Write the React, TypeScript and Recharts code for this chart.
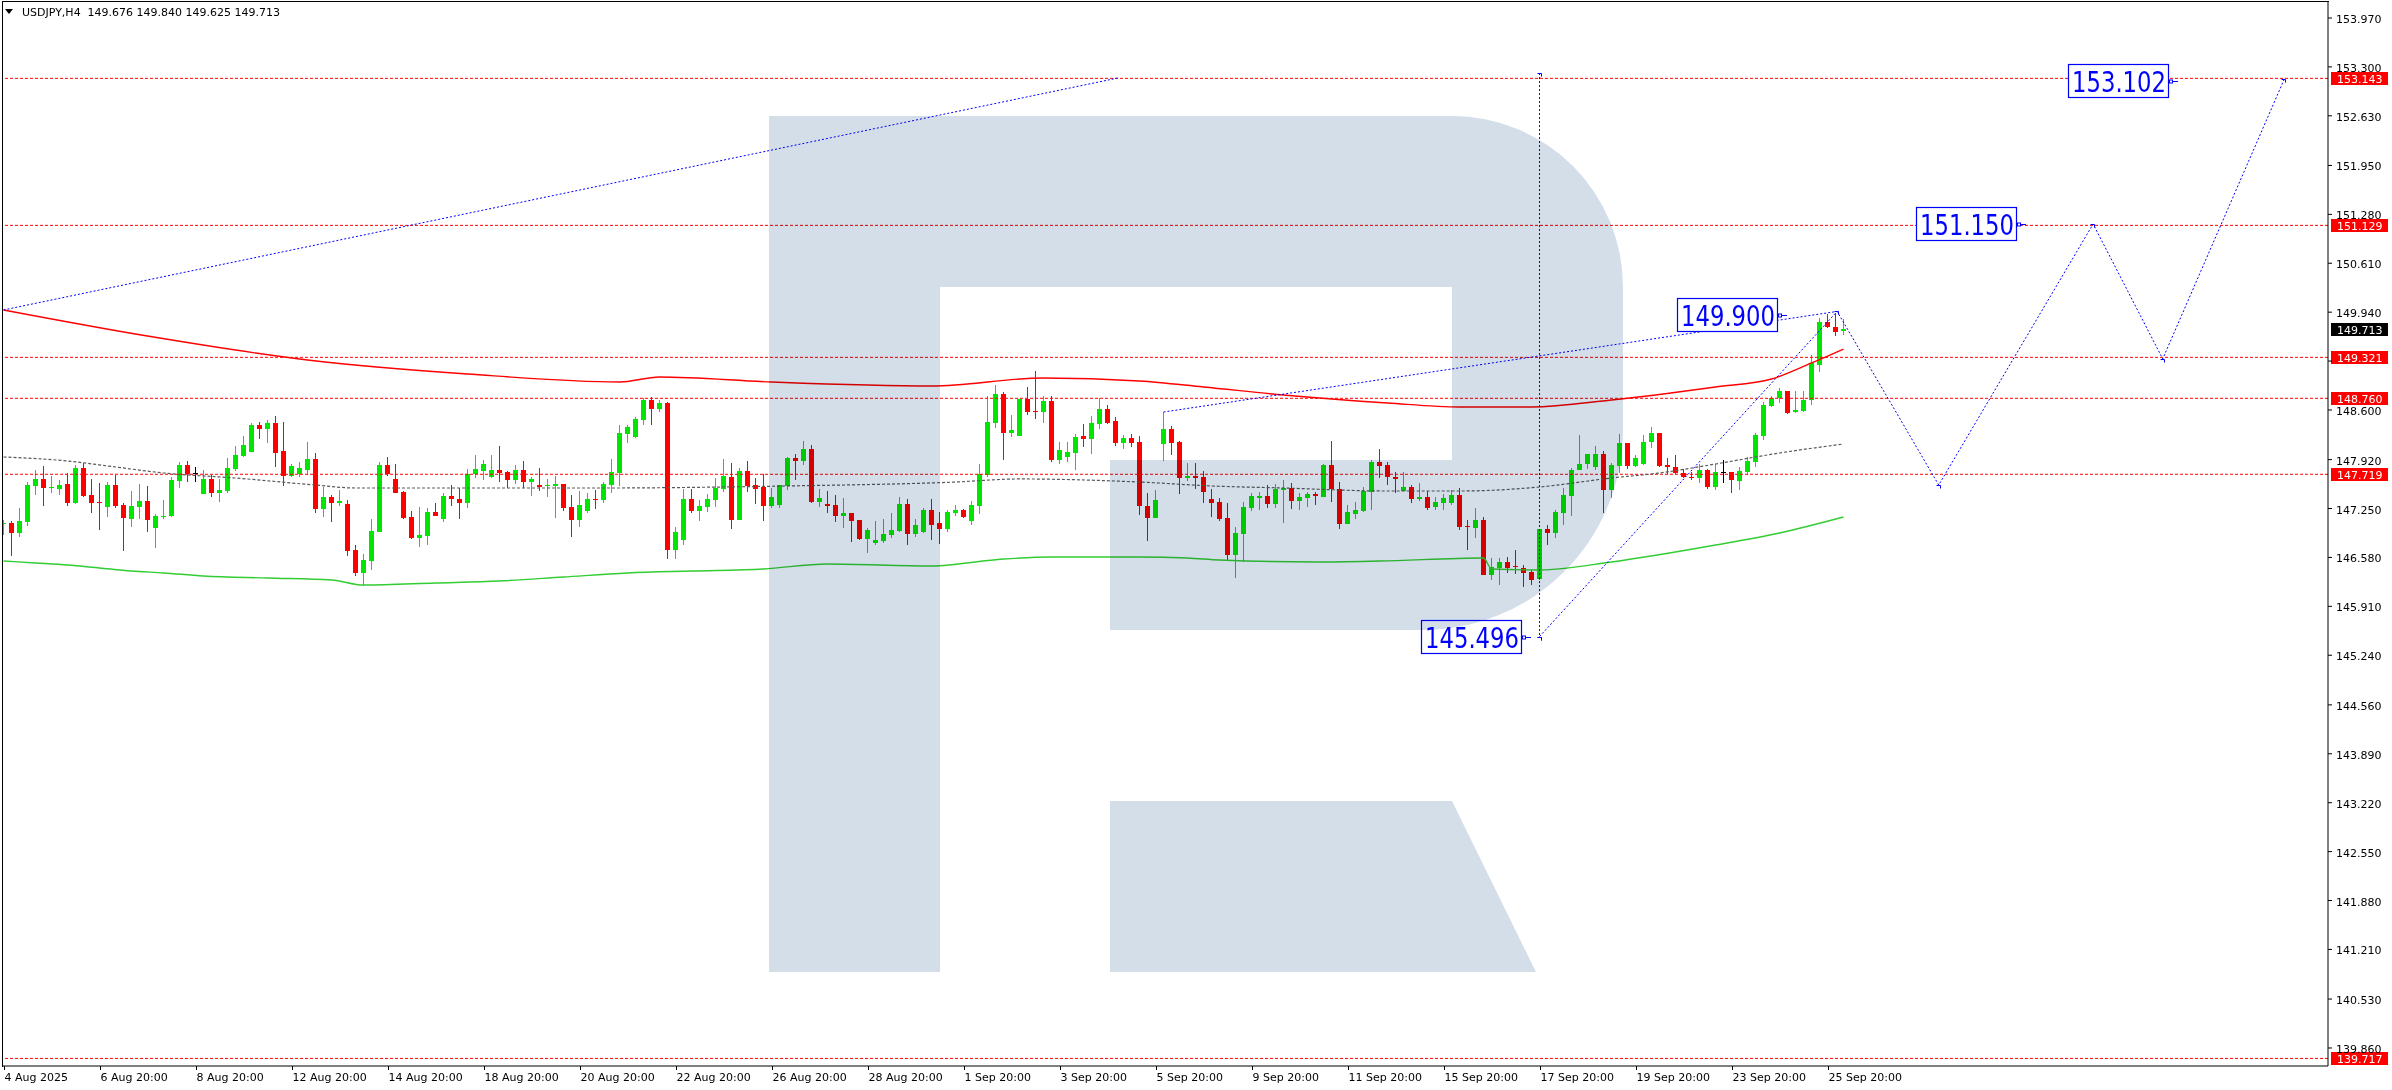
import React from "react";
import { ComposedChart, Bar, Line, XAxis, YAxis, ReferenceLine, ReferenceDot } from "recharts";

// USDJPY H4, bar 0 = 4 Aug 2025 20:00, one bar every 4 hours (weekends skipped)
const opens = [
  147.034, 147.048, 146.920, 147.071, 147.563, 147.655, 147.536, 147.522, 147.586, 147.331,
  147.810, 147.436, 147.340, 147.276, 147.573, 147.299, 147.112, 147.276, 147.354, 146.988,
  147.144, 147.153, 147.632, 147.847, 147.732, 147.454, 147.655, 147.468, 147.495, 147.792,
  147.975, 148.030, 148.394, 148.340, 148.426, 148.039, 147.700, 147.719, 147.778, 147.929,
  147.249, 147.413, 147.331, 147.313, 146.682, 146.371, 146.536, 146.934, 147.847, 147.655,
  147.477, 147.139, 146.851, 146.879, 147.203, 147.112, 147.422, 147.381, 147.331, 147.719,
  147.764, 147.687, 147.778, 147.751, 147.641, 147.778, 147.618, 147.573, 147.563, 147.563,
  147.586, 147.272, 147.094, 147.217, 147.381, 147.368, 147.573, 147.741, 148.276, 148.230,
  148.463, 148.737, 148.618, 148.696, 146.682, 146.819, 147.381, 147.217, 147.276, 147.368,
  147.522, 147.682, 147.094, 147.764, 147.573, 147.545, 147.290, 147.299, 147.563, 147.943,
  147.901, 148.066, 147.340, 147.313, 147.299, 147.153, 147.190, 147.094, 146.833, 146.778,
  146.806, 146.888, 146.943, 147.313, 146.902, 146.929, 147.231, 147.053, 146.970, 147.190,
  147.231, 147.080, 147.285, 147.710, 148.422, 148.819, 148.285, 148.244, 148.750, 148.586,
  148.572, 148.723, 147.915, 147.956, 148.011, 148.244, 148.203, 148.408, 148.613, 148.449,
  148.148, 148.217, 148.162, 147.285, 147.121, 148.135, 148.340, 148.162, 147.668, 147.696,
  147.682, 147.381, 147.340, 147.121, 146.614, 146.902, 147.258, 147.395, 147.422, 147.313,
  147.504, 147.531, 147.354, 147.395, 147.450, 147.409, 147.847, 147.518, 147.039, 147.176,
  147.217, 147.477, 147.888, 147.847, 147.678, 147.486, 147.545, 147.381, 147.409, 147.272,
  147.331, 147.331, 147.436, 147.012, 146.988, 147.094, 146.340, 146.431, 146.522, 146.458,
  146.431, 146.385, 146.280, 146.965, 146.911, 147.194, 147.427, 147.778, 147.860, 147.824,
  147.998, 147.504, 147.837, 148.144, 147.837, 147.856, 148.162, 148.281, 147.847, 147.824,
  147.741, 147.678, 147.664, 147.778, 147.550, 147.755, 147.755, 147.632, 147.755, 147.892,
  148.249, 148.659, 148.760, 148.860, 148.568, 148.591, 148.737, 149.217, 149.801, 149.742,
  149.676,
];
const highs = [
  147.094, 147.080, 147.258, 147.618, 147.778, 147.833, 147.700, 147.641, 147.732, 147.847,
  147.869, 147.655, 147.600, 147.618, 147.710, 147.322, 147.490, 147.582, 147.559, 147.176,
  147.368, 147.687, 147.892, 147.901, 147.815, 147.778, 147.710, 147.655, 147.947, 148.107,
  148.244, 148.426, 148.440, 148.463, 148.518, 148.440, 147.860, 147.892, 148.167, 148.011,
  147.550, 147.436, 147.504, 147.368, 146.751, 146.628, 147.103, 147.892, 147.956, 147.865,
  147.490, 147.222, 147.276, 147.263, 147.322, 147.459, 147.573, 147.527, 147.792, 147.984,
  147.915, 147.984, 148.107, 147.764, 147.847, 147.901, 147.687, 147.810, 147.655, 147.700,
  147.586, 147.436, 147.490, 147.459, 147.504, 147.618, 147.929, 148.394, 148.394, 148.504,
  148.769, 148.778, 148.737, 148.709, 146.997, 147.518, 147.518, 147.368, 147.450, 147.668,
  147.929, 147.874, 147.801, 147.901, 147.668, 147.723, 147.531, 147.573, 147.961, 147.998,
  148.176, 148.121, 147.518, 147.490, 147.436, 147.395, 147.190, 147.094, 146.984, 147.080,
  147.107, 147.190, 147.409, 147.381, 147.107, 147.258, 147.381, 147.203, 147.231, 147.299,
  147.244, 147.354, 147.860, 148.791, 148.943, 148.847, 148.531, 148.750, 148.915, 149.134,
  148.791, 148.791, 148.162, 148.162, 148.272, 148.408, 148.518, 148.764, 148.668, 148.504,
  148.258, 148.272, 148.244, 147.463, 147.504, 148.572, 148.381, 148.176, 147.874, 147.874,
  147.764, 147.518, 147.395, 147.327, 146.997, 147.340, 147.463, 147.477, 147.573, 147.586,
  147.641, 147.600, 147.463, 147.477, 147.477, 147.860, 148.176, 147.614, 147.299, 147.340,
  147.545, 147.915, 148.066, 147.883, 147.746, 147.755, 147.573, 147.600, 147.486, 147.409,
  147.450, 147.504, 147.531, 147.094, 147.254, 147.130, 146.568, 146.568, 146.591, 146.682,
  146.472, 146.408, 146.965, 147.025, 147.231, 147.527, 147.801, 148.258, 147.998, 148.107,
  148.043, 147.869, 148.272, 148.144, 147.984, 148.258, 148.372, 148.290, 147.938, 147.984,
  147.787, 147.755, 147.860, 147.792, 147.860, 147.915, 147.755, 147.815, 147.961, 148.290,
  148.714, 148.791, 148.906, 148.860, 148.860, 148.860, 149.353, 149.856, 149.915, 149.924,
  149.840,
];
const lows = [
  146.888, 146.600, 146.865, 147.016, 147.436, 147.290, 147.468, 147.436, 147.290, 147.313,
  147.404, 147.190, 146.961, 147.139, 147.254, 146.673, 147.002, 147.103, 146.934, 146.714,
  147.103, 147.130, 147.536, 147.618, 147.618, 147.454, 147.413, 147.345, 147.468, 147.769,
  147.961, 148.030, 148.198, 148.144, 147.824, 147.563, 147.678, 147.687, 147.710, 147.194,
  147.139, 147.071, 147.290, 146.605, 146.330, 146.193, 146.408, 146.934, 147.700, 147.459,
  147.103, 146.833, 146.728, 146.751, 147.153, 147.071, 147.290, 147.112, 147.263, 147.673,
  147.641, 147.673, 147.618, 147.536, 147.586, 147.536, 147.427, 147.490, 147.413, 147.126,
  147.222, 146.865, 147.002, 147.194, 147.244, 147.331, 147.468, 147.559, 148.153, 148.221,
  148.394, 148.394, 148.572, 146.559, 146.559, 146.751, 147.194, 147.080, 147.203, 147.276,
  147.481, 146.970, 147.094, 147.481, 147.313, 147.080, 147.263, 147.263, 147.504, 147.641,
  147.847, 147.327, 147.272, 147.190, 147.066, 146.984, 146.792, 146.819, 146.641, 146.751,
  146.778, 146.847, 146.929, 146.751, 146.860, 146.915, 146.819, 146.765, 146.929, 147.144,
  147.121, 147.025, 147.176, 147.682, 148.354, 147.915, 148.230, 148.244, 148.531, 148.476,
  148.417, 147.888, 147.860, 147.888, 147.778, 148.093, 147.998, 148.340, 148.408, 148.107,
  148.066, 148.093, 147.162, 146.806, 147.121, 147.901, 147.984, 147.450, 147.627, 147.518,
  147.327, 147.135, 147.080, 146.545, 146.298, 146.518, 147.217, 147.231, 147.258, 147.258,
  147.053, 147.244, 147.231, 147.272, 147.299, 147.409, 147.340, 146.970, 147.039, 147.107,
  147.203, 147.231, 147.668, 147.573, 147.459, 147.486, 147.331, 147.354, 147.231, 147.231,
  147.231, 147.299, 146.956, 146.678, 146.851, 146.340, 146.271, 146.207, 146.362, 146.353,
  146.180, 146.203, 146.271, 146.751, 146.842, 147.025, 147.149, 147.778, 147.787, 147.778,
  147.185, 147.391, 147.741, 147.787, 147.824, 147.847, 148.075, 147.824, 147.723, 147.719,
  147.664, 147.641, 147.595, 147.518, 147.504, 147.605, 147.459, 147.504, 147.710, 147.815,
  148.189, 148.645, 148.691, 148.549, 148.554, 148.577, 148.668, 149.125, 149.719, 149.618,
  149.625,
];
const closes = [
  147.048, 146.920, 147.080, 147.573, 147.655, 147.536, 147.545, 147.573, 147.331, 147.810,
  147.427, 147.331, 147.331, 147.573, 147.290, 147.126, 147.285, 147.354, 147.094, 147.149,
  147.153, 147.641, 147.847, 147.723, 147.732, 147.655, 147.468, 147.504, 147.810, 147.984,
  148.121, 148.394, 148.340, 148.426, 148.016, 147.700, 147.833, 147.810, 147.929, 147.249,
  147.409, 147.331, 147.354, 146.673, 146.371, 146.545, 146.943, 147.847, 147.723, 147.468,
  147.126, 146.851, 146.888, 147.203, 147.153, 147.422, 147.377, 147.331, 147.719, 147.792,
  147.860, 147.778, 147.741, 147.641, 147.778, 147.618, 147.655, 147.550, 147.568, 147.586,
  147.263, 147.094, 147.299, 147.381, 147.372, 147.586, 147.751, 148.285, 148.367, 148.476,
  148.737, 148.618, 148.696, 146.682, 146.929, 147.381, 147.217, 147.285, 147.381, 147.531,
  147.696, 147.094, 147.764, 147.559, 147.518, 147.290, 147.409, 147.573, 147.943, 147.901,
  148.066, 147.340, 147.395, 147.290, 147.153, 147.190, 147.080, 146.833, 146.956, 146.819,
  146.902, 146.956, 147.313, 146.902, 147.025, 147.231, 147.025, 146.970, 147.203, 147.231,
  147.139, 147.299, 147.723, 148.435, 148.819, 148.285, 148.326, 148.750, 148.572, 148.577,
  148.723, 147.915, 148.052, 148.025, 148.230, 148.203, 148.422, 148.613, 148.422, 148.148,
  148.217, 148.148, 147.285, 147.121, 147.368, 148.340, 148.148, 147.668, 147.696, 147.668,
  147.477, 147.327, 147.107, 146.614, 146.915, 147.272, 147.422, 147.422, 147.313, 147.518,
  147.531, 147.354, 147.409, 147.450, 147.422, 147.847, 147.518, 147.039, 147.203, 147.231,
  147.490, 147.888, 147.833, 147.678, 147.650, 147.545, 147.381, 147.409, 147.254, 147.340,
  147.400, 147.436, 146.997, 146.993, 147.094, 146.340, 146.454, 146.522, 146.440, 146.449,
  146.371, 146.271, 146.965, 146.911, 147.208, 147.436, 147.778, 147.860, 147.998, 147.998,
  147.504, 147.847, 148.144, 147.837, 147.938, 148.162, 148.281, 147.837, 147.824, 147.732,
  147.687, 147.673, 147.778, 147.550, 147.755, 147.755, 147.641, 147.764, 147.901, 148.258,
  148.668, 148.769, 148.860, 148.563, 148.600, 148.737, 149.248, 149.801, 149.742, 149.673,
  149.713,
];

const tickBars = [0, 12, 24, 36, 48, 60, 72, 84, 96, 108, 120, 132, 144, 156, 168, 180, 192, 204, 216, 228];
const tickTexts = [
  "4 Aug 2025", "6 Aug 20:00", "8 Aug 20:00", "12 Aug 20:00", "14 Aug 20:00", "18 Aug 20:00",
  "20 Aug 20:00", "22 Aug 20:00", "26 Aug 20:00", "28 Aug 20:00", "1 Sep 20:00", "3 Sep 20:00",
  "5 Sep 20:00", "9 Sep 20:00", "11 Sep 20:00", "15 Sep 20:00", "17 Sep 20:00", "19 Sep 20:00",
  "23 Sep 20:00", "25 Sep 20:00",
];
const priceTicks = [
  153.97, 153.3, 152.63, 151.95, 151.28, 150.61, 149.94, 149.27, 148.6, 147.92, 147.25,
  146.58, 145.91, 145.24, 144.56, 143.89, 143.22, 142.55, 141.88, 141.21, 140.53, 139.86,
];

// horizontal levels
const levelPrices = [153.143, 151.129, 149.321, 148.76, 147.719, 139.717];
const lastPrice = 149.713;

// moving averages, read at a few bars
const redMaBars = [0, 18, 38, 58, 77, 82, 96, 116, 130, 142, 150, 160, 173, 182, 191, 201, 214, 221, 226, 230];
const redMaVals = [
  149.970, 149.613, 149.285, 149.093, 148.983, 149.052, 148.983, 148.928, 149.038, 148.997,
  148.915, 148.805, 148.696, 148.641, 148.641, 148.737, 148.915, 149.024, 149.244, 149.435,
];
const grayMaBars = [0, 8, 14, 20, 29, 39, 44, 75, 90, 98, 119, 127, 142, 151, 160, 173, 182, 192, 201, 207, 214, 222, 230];
const grayMaVals = [
  147.956, 147.901, 147.819, 147.737, 147.668, 147.572, 147.531, 147.531, 147.545, 147.559,
  147.613, 147.655, 147.613, 147.559, 147.531, 147.490, 147.490, 147.545, 147.668, 147.737,
  147.860, 148.011, 148.134,
];
const greenMaBars = [0, 4, 8, 12, 16, 20, 25, 33, 41, 45, 54, 62, 70, 78, 86, 95, 103, 116, 125, 131, 142, 148, 152, 164, 172, 185, 186, 192, 201, 214, 222, 230];
const greenMaVals = [
  146.531, 146.504, 146.476, 146.435, 146.394, 146.367, 146.326, 146.298, 146.271, 146.202,
  146.230, 146.257, 146.312, 146.367, 146.394, 146.422, 146.490, 146.463, 146.559, 146.586,
  146.586, 146.572, 146.545, 146.518, 146.531, 146.572, 146.422, 146.408, 146.518, 146.750,
  146.915, 147.134,
];

// analyst drawings (blue)
const trendABars = [0, 139.3];
const trendAVals = [149.97, 153.148];
const trendBBars = [145, 229.2];
const trendBVals = [148.572, 149.95];
const vlineBars = [192, 192];
const vlineVals = [153.216, 145.496];
const waveBars = [192, 229.2, 241.9, 261.2, 269.9, 285.1];
const waveVals = [145.496, 149.95, 147.572, 151.148, 149.3, 153.134];
const noteBars = [189.8, 221.8, 251.7, 270.7];
const noteVals = [145.496, 149.9, 151.15, 153.102];

const GREEN = "#00e600";
const RED = "#ff0000";
const BLUE = "#0000ff";
const FONT = "'DejaVu Sans', Tahoma, Verdana, sans-serif";

const candles = opens.map((o, k) => ({
  i: k,
  o,
  h: highs[k],
  l: lows[k],
  c: closes[k],
  range: [lows[k], highs[k]],
}));

const pts = (bars: number[], vals: number[]) => bars.map((b, k) => ({ i: b, v: vals[k] }));

function Candle(props: any) {
  const { x, y, width, height, payload } = props;
  if (!payload || height == null) return null;
  const { o, h, l, c } = payload;
  const ppu = height / (h - l);
  const cx = Math.round(x + width / 2) + 0.5;
  const top = Math.round(y + (h - Math.max(o, c)) * ppu);
  const bot = Math.round(y + (h - Math.min(o, c)) * ppu);
  const color = c > o ? GREEN : c < o ? RED : "#000";
  return (
    <g shapeRendering="crispEdges">
      <line x1={cx} x2={cx} y1={Math.round(y)} y2={Math.round(y + height)} stroke={color} strokeWidth={1} />
      <rect x={cx - 2.5} y={top} width={5} height={Math.max(1, bot - top)} fill={color} />
    </g>
  );
}

function TimeTick(props: any) {
  const { x, y, payload } = props;
  const k = tickBars.indexOf(payload.value);
  const px = Math.round(x) + 0.5;
  return (
    <g>
      <line x1={px} x2={px} y1={y} y2={y + 4} stroke="#000" shapeRendering="crispEdges" />
      <text x={px} y={y + 15} fontSize={11} fontFamily={FONT} fill="#000" textAnchor="start">
        {tickTexts[k]}
      </text>
    </g>
  );
}

// a scale label sitting under a level tag is covered by that tag
function PriceTick(props: any) {
  const { x, y, payload } = props;
  const v = payload.value;
  const covered = levelPrices.some((p) => Math.abs(p - v) < 0.09);
  if (covered) return null;
  return (
    <text x={x + 2} y={y + 5} fontSize={11} fontFamily={FONT} fill="#000" textAnchor="start">
      {v.toFixed(3)}
    </text>
  );
}

function PriceTag(props: any) {
  const { viewBox, text, bg } = props;
  if (!viewBox) return null;
  const x0 = viewBox.x + viewBox.width + 3;
  const yc = Math.round(viewBox.y);
  return (
    <g>
      <rect x={x0} y={yc - 6} width={57} height={13} fill={bg} shapeRendering="crispEdges" />
      <text x={x0 + 6} y={yc + 4.5} fontSize={11} fontFamily={FONT} fill="#fff">
        {text}
      </text>
    </g>
  );
}

function NoteBox(props: any) {
  const { cx, cy, text } = props;
  if (cx == null) return null;
  const r = Math.round(cx);
  const yc = Math.round(cy);
  return (
    <g>
      <rect x={r - 100.5} y={yc - 16.5} width={100} height={33} fill="#fff" stroke={BLUE} strokeWidth={1.2} />
      <text
        x={r - 97}
        y={yc + 10.5}
        fontSize={29}
        fontFamily={FONT}
        fill={BLUE}
        textLength={94}
        lengthAdjust="spacingAndGlyphs"
      >
        {text}
      </text>
      <line x1={r} x2={r + 9} y1={yc + 0.5} y2={yc + 0.5} stroke={BLUE} strokeWidth={1} />
      <rect x={r + 0.5} y={yc - 1} width={3} height={3} fill="#fff" stroke={BLUE} strokeWidth={1} />
    </g>
  );
}

function Mark(props: any) {
  const { cx, cy } = props;
  if (cx == null) return null;
  return (
    <path
      key={`m-${props.index}`}
      d={`M${Math.round(cx) - 2.5},${Math.round(cy) + 0.5} h4 v3`}
      fill="none"
      stroke={BLUE}
      strokeWidth={1}
    />
  );
}

function Watermark() {
  return (
    <svg width={2392} height={1090} style={{ position: "absolute", left: 0, top: 0 }}>
      <path
        d="M769,116 H1452 A171,171 0 0 1 1623,287 V430 A200,200 0 0 1 1422,630 H1110 V460 H1452 V287 H940 V972 H769 Z"
        fill="#d4dee9"
      />
      <path d="M1110,801 H1452 L1536,972 H1110 Z" fill="#d4dee9" />
    </svg>
  );
}

export default function App() {
  return (
    <div style={{ position: "relative", width: 2392, height: 1090, background: "#fff", fontFamily: FONT }}>
      <style>{"body{margin:0;}"}</style>
      <Watermark />
      <div style={{ position: "absolute", left: 0, top: 0, mixBlendMode: "multiply" }}>
        <ComposedChart width={2392} height={1090} data={candles} margin={{ top: 2, right: 0, bottom: 0, left: 2 }}>
          <XAxis
            dataKey="i"
            type="number"
            domain={[-0.19, 290.56]}
            allowDataOverflow
            ticks={tickBars}
            interval={0}
            tick={<TimeTick />}
            tickLine={false}
            tickSize={0}
            tickMargin={0}
            axisLine={{ stroke: "#000" }}
            height={24}
          />
          <YAxis
            orientation="right"
            type="number"
            domain={[139.613, 154.189]}
            allowDataOverflow
            ticks={priceTicks}
            interval={0}
            tick={<PriceTick />}
            tickSize={4}
            tickMargin={2}
            tickLine={{ stroke: "#000" }}
            axisLine={{ stroke: "#000" }}
            width={64}
          />
          {levelPrices.map((p) => (
            <ReferenceLine
              key={p}
              y={p}
              stroke={RED}
              strokeDasharray="3 2"
              strokeWidth={1}
              label={<PriceTag text={p.toFixed(3)} bg={RED} />}
            />
          ))}
          <ReferenceLine y={lastPrice} stroke="none" label={<PriceTag text={lastPrice.toFixed(3)} bg="#000" />} />
          <Line data={pts(redMaBars, redMaVals)} dataKey="v" type="monotone" stroke={RED} strokeWidth={1.4} dot={false} isAnimationActive={false} />
          <Line data={pts(grayMaBars, grayMaVals)} dataKey="v" type="monotone" stroke="#5a5a5a" strokeWidth={1.2} strokeDasharray="3 2" dot={false} isAnimationActive={false} />
          <Line data={pts(greenMaBars, greenMaVals)} dataKey="v" type="monotone" stroke="#32cd32" strokeWidth={1.4} dot={false} isAnimationActive={false} />
          <Bar dataKey="range" barSize={5} shape={<Candle />} isAnimationActive={false} />
          <Line data={pts(trendABars, trendAVals)} dataKey="v" type="linear" stroke={BLUE} strokeWidth={1} strokeDasharray="2 2" dot={false} isAnimationActive={false} />
          <Line data={pts(trendBBars, trendBVals)} dataKey="v" type="linear" stroke={BLUE} strokeWidth={1} strokeDasharray="2 2" dot={false} isAnimationActive={false} />
          <Line data={pts(vlineBars, vlineVals)} dataKey="v" type="linear" stroke={BLUE} strokeWidth={1} strokeDasharray="2 2" dot={Mark} isAnimationActive={false} />
          <Line data={pts(waveBars, waveVals)} dataKey="v" type="linear" stroke={BLUE} strokeWidth={1} strokeDasharray="2 2" dot={Mark} isAnimationActive={false} />
          {noteBars.map((b, k) => (
            <ReferenceDot
              key={`n${k}`}
              x={b}
              y={noteVals[k]}
              r={0}
              shape={(p: any) => <NoteBox {...p} text={noteVals[k].toFixed(3)} />}
            />
          ))}
        </ComposedChart>
      </div>
      <div
        style={{
          position: "absolute",
          left: 2,
          top: 1,
          width: 2326,
          height: 1065,
          borderLeft: "1px solid #000",
          borderTop: "1px solid #000",
          pointerEvents: "none",
        }}
      />
      <svg width={300} height={20} style={{ position: "absolute", left: 0, top: 2 }}>
        <path d="M5,7 h8 l-4,5 z" fill="#000" />
        <text x={22} y={14} fontSize={11} fontFamily={FONT} fill="#000" style={{ whiteSpace: "pre" }}>
          {"USDJPY,H4  149.676 149.840 149.625 149.713"}
        </text>
      </svg>
    </div>
  );
}
